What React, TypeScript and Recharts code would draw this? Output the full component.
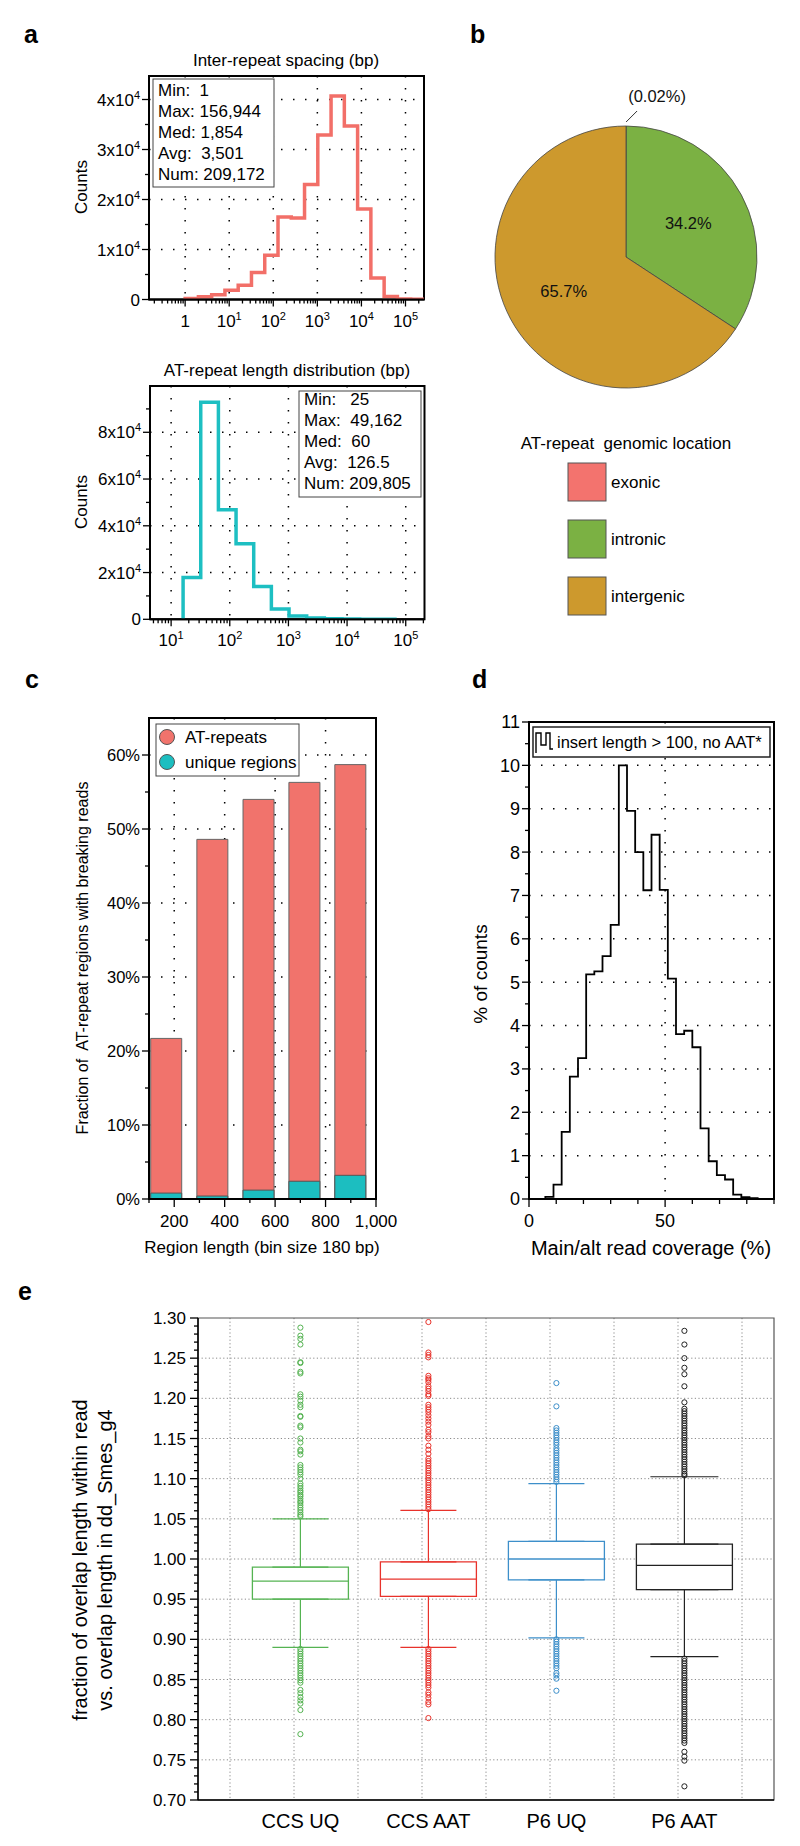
import React from 'react';
import {
  LineChart, Line, XAxis, YAxis, CartesianGrid, ReferenceArea,
  PieChart, Pie, Cell, BarChart, Bar, ComposedChart, Scatter, ErrorBar,
} from 'recharts';

const FONT = 'Liberation Sans, Arial, Helvetica, sans-serif';

// ---------- panel a (histograms, factor-2 bins) ----------
const spacingEdges = [1, 2, 4, 8, 16, 32, 64, 128, 256, 512, 1024, 2048, 4096, 8192, 16384, 32768, 65536, 131072, 262144];
const spacingCounts = [200, 530, 930, 1870, 2870, 5400, 8870, 16500, 16300, 23000, 32900, 40700, 34700, 18100, 4300, 600, 100, 30];
const spacingStats = ['Min:  1', 'Max: 156,944', 'Med: 1,854', 'Avg:  3,501', 'Num: 209,172'];

const lengthEdges = [16, 32, 64, 128, 256, 512, 1024, 2048, 4096, 8192, 16384, 32768, 65536];
const lengthCounts = [17900, 92900, 46900, 32300, 14000, 4400, 1400, 600, 200, 100, 50, 20];
const lengthStats = ['Min:   25', 'Max:  49,162', 'Med:  60', 'Avg:  126.5', 'Num: 209,805'];

// ---------- panel b ----------
const locations = ['exonic', 'intronic', 'intergenic'];
const locationShare = [0.02, 34.2, 65.7];
const locationColors = ['#F3736E', '#7BB143', '#CD992D'];

// ---------- panel c ----------
const regionBins = [170, 353, 536, 718, 900];
const atRepeatFrac = [0.217, 0.486, 0.540, 0.563, 0.587];
const uniqueFrac = [0.008, 0.004, 0.012, 0.024, 0.032];
const cSeries = ['AT-repeats', 'unique regions'];
const cColors = ['#F1736C', '#1CBEC0'];

// ---------- panel d ----------
const coverageEdges = [6, 9, 12, 15, 18, 21, 24, 27, 30, 33, 36, 39, 42, 45, 48, 51, 54, 57, 60, 63, 66, 69, 72, 75, 78, 81, 84];
const coveragePct = [0.05, 0.33, 1.55, 2.82, 3.25, 5.18, 5.25, 5.6, 6.32, 10.0, 8.95, 8.0, 7.12, 8.4, 7.13, 5.08, 3.8, 3.88, 3.5, 1.63, 0.87, 0.55, 0.45, 0.1, 0.04, 0.02];

// ---------- panel e ----------
const groups = ['CCS UQ', 'CCS AAT', 'P6 UQ', 'P6 AAT'];
const groupColors = ['#55B352', '#E8322B', '#3D8FCA', '#222222'];
const whiskerLow = [0.890, 0.890, 0.9017, 0.8784];
const q1 = [0.950, 0.9534, 0.974, 0.962];
const median = [0.9725, 0.975, 1.0, 0.992];
const q3 = [0.990, 0.9963, 1.022, 1.0186];
const whiskerHigh = [1.050, 1.0605, 1.0938, 1.1024];
const outliers = [
  [1.288, 1.278, 1.274, 1.267, 1.245, 1.244, 1.233, 1.231, 1.205, 1.202, 1.197, 1.192, 1.189, 1.178, 1.177, 1.166, 1.164, 1.150, 1.145, 1.136, 1.134, 1.130, 1.117, 1.114, 1.111, 1.108, 1.105, 1.100, 1.094, 1.091, 1.088, 1.085, 1.083, 1.080, 1.078, 1.075, 1.072, 1.070, 1.067, 1.064, 1.061, 1.058, 1.055, 1.053,
    0.888, 0.885, 0.882, 0.879, 0.876, 0.873, 0.870, 0.867, 0.864, 0.861, 0.858, 0.855, 0.852, 0.849, 0.846, 0.837, 0.833, 0.828, 0.824, 0.820, 0.812, 0.782],
  [1.295, 1.257, 1.254, 1.251, 1.228, 1.225, 1.223, 1.220, 1.215, 1.212, 1.209, 1.205, 1.203, 1.192, 1.189, 1.186, 1.183, 1.179, 1.175, 1.171, 1.167, 1.161, 1.158, 1.153, 1.150, 1.141, 1.136, 1.131, 1.125, 1.122, 1.119, 1.116, 1.113, 1.110, 1.107, 1.104, 1.101, 1.098, 1.095, 1.092, 1.089, 1.086, 1.083, 1.080, 1.077, 1.074, 1.071, 1.068, 1.065, 1.062,
    0.888, 0.885, 0.882, 0.879, 0.876, 0.873, 0.870, 0.867, 0.864, 0.861, 0.858, 0.855, 0.852, 0.849, 0.846, 0.843, 0.840, 0.834, 0.831, 0.827, 0.822, 0.819, 0.802],
  [1.219, 1.190, 1.163, 1.160, 1.157, 1.154, 1.151, 1.148, 1.145, 1.142, 1.138, 1.135, 1.132, 1.129, 1.126, 1.123, 1.120, 1.117, 1.114, 1.111, 1.108, 1.105, 1.102, 1.099, 1.096,
    0.900, 0.897, 0.894, 0.891, 0.888, 0.885, 0.882, 0.879, 0.876, 0.873, 0.870, 0.867, 0.864, 0.858, 0.855, 0.851, 0.836],
  [1.284, 1.267, 1.250, 1.238, 1.230, 1.215, 1.195, 1.187, 1.184, 1.181, 1.178, 1.175, 1.172, 1.169, 1.166, 1.163, 1.160, 1.157, 1.154, 1.151, 1.148, 1.145, 1.142, 1.139, 1.136, 1.133, 1.130, 1.127, 1.124, 1.121, 1.118, 1.115, 1.112, 1.109, 1.106, 1.104,
    0.876, 0.873, 0.870, 0.867, 0.864, 0.861, 0.858, 0.855, 0.852, 0.849, 0.846, 0.843, 0.840, 0.837, 0.834, 0.831, 0.828, 0.825, 0.822, 0.819, 0.816, 0.813, 0.810, 0.807, 0.804, 0.801, 0.798, 0.795, 0.792, 0.789, 0.786, 0.783, 0.780, 0.777, 0.774, 0.771, 0.760, 0.754, 0.749, 0.717],
];
const capHalf = [28, 28, 28, 34];

// ---------- layout helpers ----------
type Rect = { left: number; top: number; right: number; bottom: number };
const pad = { l: 90, t: 12, r: 12, b: 60 };
function place(p: Rect, padR = pad.r) {
  return {
    style: { position: 'absolute' as const, left: p.left - pad.l, top: p.top - pad.t },
    width: p.right - p.left + pad.l + padR,
    height: p.bottom - p.top + pad.t + pad.b,
    margin: { top: pad.t, right: padR, bottom: 0, left: 0 },
  };
}

const rAtop: Rect = { left: 149, top: 76, right: 424, bottom: 299.5 };
const rAbot: Rect = { left: 149.5, top: 386, right: 424, bottom: 619.3 };
const rC: Rect = { left: 149, top: 718, right: 376, bottom: 1199 };
const rD: Rect = { left: 529, top: 722, right: 774, bottom: 1199 };
const rE: Rect = { left: 198, top: 1318, right: 774, bottom: 1800 };

const stepRows = (edges: number[], counts: number[], toX: (v: number) => number) => {
  const rows = [{ x: toX(edges[0]), y: 0 }];
  edges.forEach((e, i) => rows.push({ x: toX(e), y: i < counts.length ? counts[i] : 0 }));
  return rows;
};

const spacingRows = stepRows(spacingEdges, spacingCounts, Math.log10);
const lengthRows = stepRows(lengthEdges, lengthCounts, Math.log10);
const coverageRows = stepRows(coverageEdges, coveragePct, (v) => v);
const cRows = regionBins.map((x, i) => ({ x, at: atRepeatFrac[i], uq: uniqueFrac[i] }));
const pieRows = locations.map((name, i) => ({ name, value: locationShare[i] }));
const boxRows = groups.map((g, i) => ({ x: i + 1, box: [q1[i], q3[i]] }));

const range = (a: number, b: number, s: number) => {
  const out: number[] = [];
  for (let v = a; v <= b + s / 1000; v += s) out.push(Math.round(v * 1e6) / 1e6);
  return out;
};
const logTicks = (lo: number, hi: number) => {
  const out: number[] = [];
  for (let d = Math.floor(lo); d <= Math.ceil(hi); d++)
    for (let m = 1; m <= 9; m++) {
      const v = d + Math.log10(m);
      if (v >= lo && v <= hi) out.push(v);
    }
  return out;
};
const isInt = (v: number) => Math.abs(v - Math.round(v)) < 1e-6;

type TickOpts = {
  isMajor: (v: number) => boolean;
  label: (v: number) => React.ReactNode;
  fontSize: number;
  majorLen: number;
  minorLen: number;
  gap: number;
  noLine?: boolean;
};
const bottomTick = (o: TickOpts) => (p: any) => {
  const v = p.payload.value;
  const m = o.isMajor(v);
  return (
    <g>
      {!o.noLine && (
        <line x1={p.x} x2={p.x} y1={p.y} y2={p.y + (m ? o.majorLen : o.minorLen)} stroke="#000" strokeWidth={1.3} />
      )}
      {m && (
        <text x={p.x} y={p.y + o.gap} textAnchor="middle" fontSize={o.fontSize} fontFamily={FONT} fill="#000">
          {o.label(v)}
        </text>
      )}
    </g>
  );
};
const leftTick = (o: TickOpts) => (p: any) => {
  const v = p.payload.value;
  const m = o.isMajor(v);
  return (
    <g>
      <line x1={p.x} x2={p.x - (m ? o.majorLen : o.minorLen)} y1={p.y} y2={p.y} stroke="#000" strokeWidth={1.3} />
      {m && (
        <text x={p.x - o.gap} y={p.y + o.fontSize * 0.36} textAnchor="end" fontSize={o.fontSize} fontFamily={FONT} fill="#000">
          {o.label(v)}
        </text>
      )}
    </g>
  );
};

const sup = (base: React.ReactNode, e: number | string) => (
  <>
    {base}
    <tspan dy={-7} fontSize={11}>{e}</tspan>
  </>
);
const pow10Label = (v: number) => (Math.round(v) === 0 ? '1' : sup('10', Math.round(v)));
const x10Label = (v: number) => (v === 0 ? '0' : sup(`${v / 1e4}x10`, 4));

const dotted = { stroke: '#000', strokeWidth: 1.5, strokeDasharray: '1.5 10.5' };

function LogHist(props: {
  rect: Rect; rows: { x: number; y: number }[]; xDomain: [number, number]; yDomain: [number, number];
  yTicks: number[]; yMajor: (v: number) => boolean; gridX: number[]; gridY: number[]; color: string;
}) {
  const f = place(props.rect);
  return (
    <div style={f.style}>
      <LineChart width={f.width} height={f.height} margin={f.margin} data={props.rows}>
        <CartesianGrid {...dotted} horizontalValues={props.gridY} verticalValues={props.gridX} />
        <XAxis
          type="number" dataKey="x" domain={props.xDomain} allowDataOverflow height={pad.b}
          ticks={logTicks(props.xDomain[0], props.xDomain[1])} interval={0}
          tickLine={false} tickSize={0} tickMargin={0} axisLine={{ stroke: '#000', strokeWidth: 2 }}
          tick={bottomTick({ isMajor: isInt, label: pow10Label, fontSize: 17, majorLen: 7, minorLen: 4, gap: 27 })}
        />
        <YAxis
          type="number" domain={props.yDomain} allowDataOverflow width={pad.l}
          ticks={props.yTicks} interval={0}
          tickLine={false} tickSize={0} tickMargin={0} axisLine={{ stroke: '#000', strokeWidth: 2 }}
          tick={leftTick({ isMajor: props.yMajor, label: x10Label, fontSize: 17, majorLen: 7, minorLen: 4, gap: 9 })}
        />
        <ReferenceArea x1={props.xDomain[0]} x2={props.xDomain[1]} y1={props.yDomain[0]} y2={props.yDomain[1]}
          fill="none" stroke="#000" strokeWidth={2} ifOverflow="visible" />
        <Line type="stepAfter" dataKey="y" stroke={props.color} strokeWidth={3.5} dot={false} isAnimationActive={false} />
      </LineChart>
    </div>
  );
}

function PanelA() {
  return (
    <>
      <LogHist
        rect={rAtop} rows={spacingRows} xDomain={[-0.82, 5.42]} yDomain={[0, 44700]}
        yTicks={range(0, 40000, 5000)} yMajor={(v) => v % 10000 === 0}
        gridX={[0, 1, 2, 3, 4, 5]} gridY={[10000, 20000, 30000, 40000]} color="#F26F68"
      />
      <LogHist
        rect={rAbot} rows={lengthRows} xDomain={[0.64, 5.32]} yDomain={[0, 99800]}
        yTicks={range(0, 90000, 10000)} yMajor={(v) => v % 20000 === 0}
        gridX={[1, 2, 3, 4, 5]} gridY={[20000, 40000, 60000, 80000]} color="#1DBFC2"
      />
    </>
  );
}

function PanelB() {
  const cx = 626, cy = 257, r = 131;
  const renderLabel = (p: any) => {
    const rad = (Math.PI / 180) * p.midAngle;
    if (p.index === 0) {
      const ox = p.cx + p.outerRadius * Math.cos(rad);
      const oy = p.cy - p.outerRadius * Math.sin(rad);
      return (
        <g>
          <line x1={ox} y1={oy - 4} x2={ox + 11} y2={oy - 15} stroke="#333" strokeWidth={1} />
          <text x={ox + 31} y={oy - 24} textAnchor="middle" fontSize={16.5} fontFamily={FONT} fill="#111">
            {`(${p.value}%)`}
          </text>
        </g>
      );
    }
    const rr = p.outerRadius * 0.54;
    return (
      <text x={p.cx + rr * Math.cos(rad)} y={p.cy - rr * Math.sin(rad) + 6} textAnchor="middle"
        fontSize={16.5} fontFamily={FONT} fill="#111">
        {`${p.value}%`}
      </text>
    );
  };
  return (
    <div style={{ position: 'absolute', left: cx - 170, top: cy - 170 }}>
      <PieChart width={340} height={340} margin={{ top: 0, right: 0, bottom: 0, left: 0 }}>
        <Pie data={pieRows} dataKey="value" nameKey="name" cx="50%" cy="50%" outerRadius={r}
          startAngle={90} endAngle={-270} stroke="#444" strokeWidth={0.8}
          label={renderLabel} labelLine={false} isAnimationActive={false}>
          {pieRows.map((d, i) => <Cell key={d.name} fill={locationColors[i]} />)}
        </Pie>
      </PieChart>
    </div>
  );
}

function PanelC() {
  const f = place(rC, 34);
  return (
    <div style={f.style}>
      <BarChart width={f.width} height={f.height} margin={f.margin} data={cRows} barGap={-31}>
        <CartesianGrid {...dotted} horizontalValues={[0.1, 0.2, 0.3, 0.4, 0.5, 0.6]} verticalValues={[200, 400, 600, 800]} />
        <XAxis
          type="number" dataKey="x" domain={[100, 1000]} allowDataOverflow height={pad.b}
          ticks={range(100, 1000, 100)} interval={0}
          tickLine={false} tickSize={0} tickMargin={0} axisLine={{ stroke: '#000', strokeWidth: 2 }}
          tick={bottomTick({ isMajor: (v) => v % 200 === 0, label: (v) => (v === 1000 ? '1,000' : String(v)), fontSize: 17, majorLen: 8, minorLen: 4, gap: 28 })}
        />
        <YAxis
          type="number" domain={[0, 0.65]} allowDataOverflow width={pad.l}
          ticks={range(0, 0.6, 0.05)} interval={0}
          tickLine={false} tickSize={0} tickMargin={0} axisLine={{ stroke: '#000', strokeWidth: 2 }}
          tick={leftTick({ isMajor: (v) => Math.round(v * 100) % 10 === 0, label: (v) => `${Math.round(v * 100)}%`, fontSize: 16.5, majorLen: 7, minorLen: 4, gap: 9 })}
        />
        <Bar dataKey="at" name={cSeries[0]} fill={cColors[0]} stroke="#666" strokeWidth={1} barSize={31} isAnimationActive={false} />
        <Bar dataKey="uq" name={cSeries[1]} fill={cColors[1]} stroke="#555" strokeWidth={1} barSize={31} isAnimationActive={false} />
        <ReferenceArea x1={100} x2={1000} y1={0} y2={0.65} fill="none" stroke="#000" strokeWidth={2} ifOverflow="visible" />
      </BarChart>
    </div>
  );
}

function PanelD() {
  const f = place(rD);
  return (
    <div style={f.style}>
      <LineChart width={f.width} height={f.height} margin={f.margin} data={coverageRows}>
        <CartesianGrid {...dotted} horizontalValues={range(1, 10, 1)} verticalValues={[50]} />
        <XAxis
          type="number" dataKey="x" domain={[0, 90]} allowDataOverflow height={pad.b}
          ticks={range(0, 90, 10)} interval={0}
          tickLine={false} tickSize={0} tickMargin={0} axisLine={{ stroke: '#000', strokeWidth: 2 }}
          tick={bottomTick({ isMajor: (v) => v === 0 || v === 50, label: (v) => String(v), fontSize: 18, majorLen: 8, minorLen: 5, gap: 28 })}
        />
        <YAxis
          type="number" domain={[0, 11]} allowDataOverflow width={pad.l}
          ticks={range(0, 11, 0.5)} interval={0}
          tickLine={false} tickSize={0} tickMargin={0} axisLine={{ stroke: '#000', strokeWidth: 2 }}
          tick={leftTick({ isMajor: isInt, label: (v) => String(v), fontSize: 18, majorLen: 7, minorLen: 4, gap: 9 })}
        />
        <ReferenceArea x1={0} x2={90} y1={0} y2={11} fill="none" stroke="#000" strokeWidth={2} ifOverflow="visible" />
        <Line type="stepAfter" dataKey="y" stroke="#000" strokeWidth={1.8} dot={false} isAnimationActive={false} />
      </LineChart>
    </div>
  );
}

function PanelE() {
  const f = place(rE);
  const boxW = 96;
  return (
    <div style={f.style}>
      <ComposedChart width={f.width} height={f.height} margin={f.margin} data={boxRows}>
        <CartesianGrid stroke="#8a8a8a" strokeWidth={1} strokeDasharray="1.2 2.4"
          horizontalValues={range(0.75, 1.25, 0.05)} verticalValues={range(0.45, 4.45, 0.5)} />
        <XAxis
          type="number" dataKey="x" domain={[0.2, 4.7]} allowDataOverflow height={pad.b}
          ticks={[1, 2, 3, 4]} interval={0}
          tickLine={false} tickSize={0} tickMargin={0} axisLine={{ stroke: '#000', strokeWidth: 1.5 }}
          tick={bottomTick({ isMajor: () => true, label: (v) => groups[v - 1], fontSize: 20, majorLen: 0, minorLen: 0, gap: 28, noLine: true })}
        />
        <YAxis
          type="number" domain={[0.7, 1.3]} allowDataOverflow width={pad.l}
          ticks={range(0.7, 1.3, 0.01)} interval={0}
          tickLine={false} tickSize={0} tickMargin={0} axisLine={{ stroke: '#000', strokeWidth: 1.5 }}
          tick={leftTick({ isMajor: (v) => Math.round(v * 100) % 5 === 0, label: (v) => v.toFixed(2), fontSize: 17, majorLen: 8, minorLen: 4, gap: 12 })}
        />
        <ReferenceArea x1={0.2} x2={4.7} y1={0.7} y2={1.3} fill="none" stroke="#555" strokeWidth={1.2} ifOverflow="visible" />
        {groups.map((g, i) => (
          <Scatter key={`w-${g}`} data={[
            { x: i + 1, y: q3[i], err: [0, whiskerHigh[i] - q3[i]] },
            { x: i + 1, y: q1[i], err: [q1[i] - whiskerLow[i], 0] },
          ]} dataKey="y" shape={() => <g />} isAnimationActive={false}>
            <ErrorBar dataKey="err" direction="y" width={capHalf[i]} stroke={groupColors[i]} strokeWidth={1.2} />
          </Scatter>
        ))}
        <Bar dataKey="box" barSize={boxW} isAnimationActive={false}>
          {boxRows.map((d, i) => <Cell key={groups[i]} fill="#fff" stroke={groupColors[i]} strokeWidth={1.3} />)}
        </Bar>
        {groups.map((g, i) => (
          <Scatter key={`m-${g}`} data={[{ x: i + 1, y: median[i] }]} dataKey="y" isAnimationActive={false}
            shape={(p: any) => <line x1={p.cx - boxW / 2} x2={p.cx + boxW / 2} y1={p.cy} y2={p.cy} stroke={groupColors[i]} strokeWidth={1.3} />} />
        ))}
        {groups.map((g, i) => (
          <Scatter key={`o-${g}`} data={outliers[i].map((y) => ({ x: i + 1, y }))} dataKey="y" isAnimationActive={false}
            shape={(p: any) => <circle cx={p.cx} cy={p.cy} r={2.6} fill="none" stroke={groupColors[i]} strokeWidth={1} />} />
        ))}
      </ComposedChart>
    </div>
  );
}

function Overlay() {
  const t = { fontFamily: FONT, fill: '#000' };
  const letter = { ...t, fontSize: 25, fontWeight: 700 };
  return (
    <svg width={800} height={1846} style={{ position: 'absolute', left: 0, top: 0, pointerEvents: 'none' }}>
      {/* panel letters */}
      <text x={24} y={43} {...letter}>a</text>
      <text x={470} y={43} {...letter}>b</text>
      <text x={25} y={688} {...letter}>c</text>
      <text x={472} y={688} {...letter}>d</text>
      <text x={18} y={1300} {...letter}>e</text>

      {/* panel a titles */}
      <text x={286} y={66} textAnchor="middle" fontSize={17} {...t}>Inter-repeat spacing (bp)</text>
      <text x={287} y={376} textAnchor="middle" fontSize={17} {...t}>AT-repeat length distribution (bp)</text>
      <text transform="rotate(-90 87 187)" x={87} y={187} textAnchor="middle" fontSize={17} {...t}>Counts</text>
      <text transform="rotate(-90 87 502)" x={87} y={502} textAnchor="middle" fontSize={17} {...t}>Counts</text>
      <rect x={153} y={79} width={121} height={108} fill="#fff" stroke="#444" strokeWidth={1} />
      {spacingStats.map((s, i) => (
        <text key={s} x={158} y={96 + i * 21} fontSize={17} style={{ whiteSpace: 'pre' }} {...t}>{s}</text>
      ))}
      <rect x={299} y={391} width={122} height={106} fill="#fff" stroke="#444" strokeWidth={1} />
      {lengthStats.map((s, i) => (
        <text key={s} x={304} y={405 + i * 21} fontSize={17} style={{ whiteSpace: 'pre' }} {...t}>{s}</text>
      ))}

      {/* panel b legend */}
      <text x={626} y={449} textAnchor="middle" fontSize={17} style={{ whiteSpace: 'pre' }} {...t}>AT-repeat  genomic location</text>
      {locations.map((name, i) => (
        <g key={name}>
          <rect x={568} y={463 + i * 57} width={38} height={38} fill={locationColors[i]} stroke="#555" strokeWidth={1} />
          <text x={611} y={488 + i * 57} fontSize={17} {...t}>{name}</text>
        </g>
      ))}

      {/* panel c labels */}
      <text transform="rotate(-90 88 958)" x={88} y={958} textAnchor="middle" fontSize={16} style={{ whiteSpace: 'pre' }} {...t}>
        Fraction of  AT-repeat regions with breaking reads
      </text>
      <text x={262} y={1253} textAnchor="middle" fontSize={17} {...t}>Region length (bin size 180 bp)</text>
      <rect x={156} y={724} width={143} height={52} fill="#fff" stroke="#444" strokeWidth={1} />
      {cSeries.map((name, i) => (
        <g key={name}>
          <circle cx={167} cy={737 + i * 25} r={7.5} fill={cColors[i]} stroke="#555" strokeWidth={1} />
          <text x={185} y={743 + i * 25} fontSize={17} {...t}>{name}</text>
        </g>
      ))}

      {/* panel d labels */}
      <text transform="rotate(-90 487 974)" x={487} y={974} textAnchor="middle" fontSize={19} {...t}>% of counts</text>
      <text x={651} y={1255} textAnchor="middle" fontSize={20} {...t}>Main/alt read coverage (%)</text>
      <rect x={533} y={727} width={237} height={30} fill="#fff" stroke="#222" strokeWidth={1.5} />
      <path d="M536,753 V733 H541 V745 H546 V733 H550 V749 H553" fill="none" stroke="#000" strokeWidth={1.4} />
      <text x={557} y={748} fontSize={16.5} {...t}>insert length &gt; 100, no AAT*</text>

      {/* panel e y title */}
      <text transform="rotate(-90 87 1560)" x={87} y={1560} textAnchor="middle" fontSize={20} {...t}>
        fraction of overlap length within read
      </text>
      <text transform="rotate(-90 112 1560)" x={112} y={1560} textAnchor="middle" fontSize={20} {...t}>
        vs. overlap length in dd_Smes_g4
      </text>
    </svg>
  );
}

export default function App() {
  return (
    <div style={{ position: 'absolute', left: 0, top: 0, width: 800, height: 1846, background: '#fff', fontFamily: FONT }}>
      <PanelA />
      <PanelB />
      <PanelC />
      <PanelD />
      <PanelE />
      <Overlay />
    </div>
  );
}
